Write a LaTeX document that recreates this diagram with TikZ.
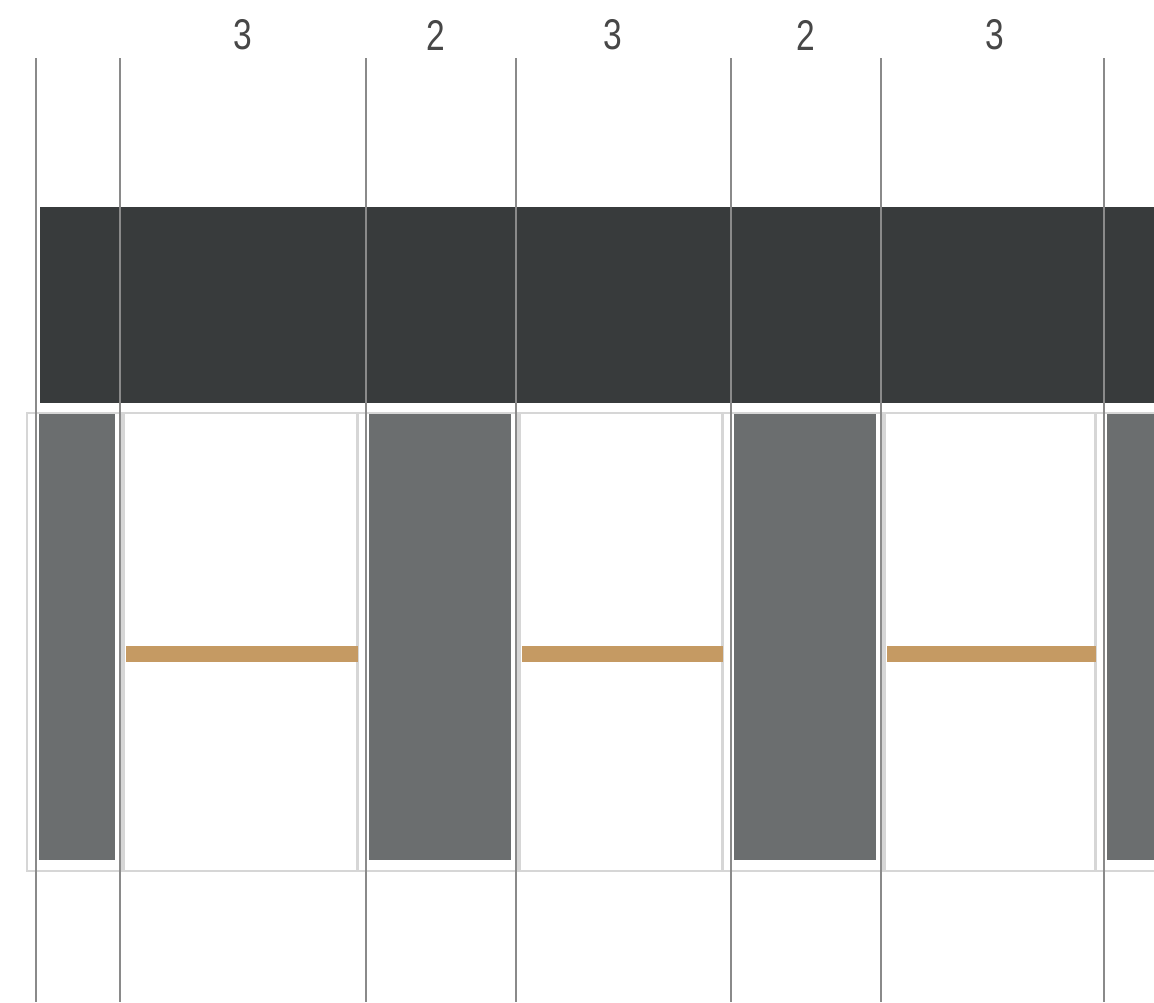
\documentclass[tikz,border=0pt]{standalone}
\usepackage{fontspec}
\setsansfont{Liberation Sans}
\usetikzlibrary{positioning}
\definecolor{cBar}{HTML}{383B3C}
\definecolor{cPanel}{HTML}{6B6E6F}
\definecolor{cGrid}{HTML}{8A8A8A}
\definecolor{cEdge}{HTML}{D6D6D6}
\definecolor{cRail}{HTML}{C59A63}
\definecolor{cNum}{HTML}{474747}
\tikzset{
  gridline/.style = {draw=cGrid, line width=2.6pt},
  bar/.style      = {fill=cBar},
  panel/.style    = {fill=cPanel},
  edge/.style     = {draw=cEdge, line width=1.2pt},
  rail/.style     = {fill=cRail},
  num/.style      = {font=\sffamily\fontsize{43}{43}\selectfont, text=cNum,
                     xscale=0.78, inner sep=0pt},
}

\begin{document}
\begin{tikzpicture}[x=1pt, y=-1pt]
  \useasboundingbox (0,0) rectangle (1154,1002);
  \clip (0,0) rectangle (1154,1002);
  \fill[white] (0,0) rectangle (1154,1002);

  % top beam
  \fill[bar] (40,207) rectangle (1154,403);

  % dark columns
  \foreach \l/\r in {36/120,366/516,731/881,1104/1200}{
    \draw[edge] (\l-9,413) rectangle (\r+4,871);
    \fill[panel] (\l+3,414) rectangle (\r-5,860);
  }
  % open bays with rails
  \foreach \l/\r in {120/366,516/731,881/1104}{
    \draw[edge] (\l+2,413) rectangle (\r-8,871);
    \fill[rail] (\l+6,646) rectangle (\r-8,662);
  }

  % grid
  \foreach \x in {36,120,366,516,731,881,1104}
    \draw[gridline] (\x,58) -- (\x,1002);

  \node[num] (w1) at (243,35) {3};
  \node[num] (w2) at (436,35) {2};
  \node[num] (w3) at (613,35) {3};
  \node[num] (w4) at (806,35) {2};
  \node[num] (w5) at (995,35) {3};
\end{tikzpicture}
\end{document}
